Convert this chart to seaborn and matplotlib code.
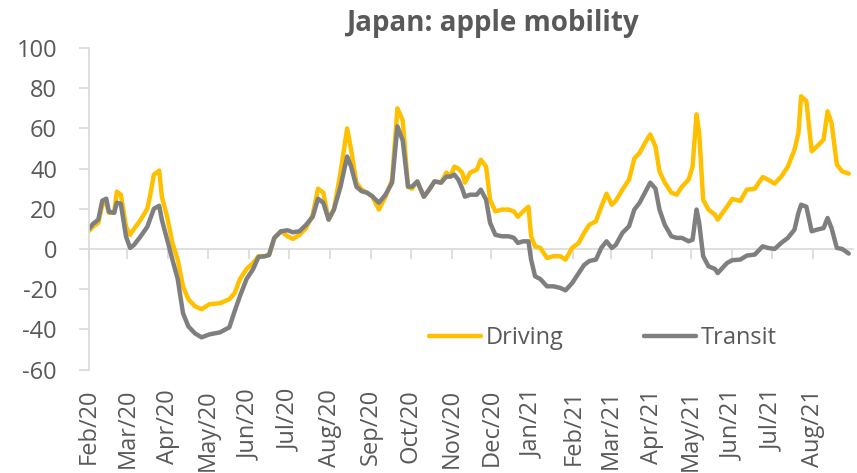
import pandas as pd
import matplotlib
matplotlib.use("Agg")
import matplotlib.pyplot as plt
import matplotlib.dates as mdates
import seaborn as sns

# values (index, 13 Jan 2020 = 100 -> % change)
dates = [
    "2020-02-01", "2020-02-04", "2020-02-08", "2020-02-11", "2020-02-14", "2020-02-16",
    "2020-02-20", "2020-02-22", "2020-02-25", "2020-02-29", "2020-03-03", "2020-03-06",
    "2020-03-11", "2020-03-16", "2020-03-18", "2020-03-21", "2020-03-25", "2020-03-27",
    "2020-03-31", "2020-04-04", "2020-04-08", "2020-04-12", "2020-04-16", "2020-04-21",
    "2020-04-26", "2020-05-02", "2020-05-10", "2020-05-17", "2020-05-21", "2020-05-25",
    "2020-05-30", "2020-06-04", "2020-06-08", "2020-06-13", "2020-06-16", "2020-06-20",
    "2020-06-25", "2020-06-30", "2020-07-04", "2020-07-09", "2020-07-14", "2020-07-19",
    "2020-07-23", "2020-07-27", "2020-07-31", "2020-08-04", "2020-08-09", "2020-08-14",
    "2020-08-17", "2020-08-21", "2020-08-25", "2020-08-29", "2020-09-02", "2020-09-07",
    "2020-09-12", "2020-09-17", "2020-09-21", "2020-09-25", "2020-09-29", "2020-10-02",
    "2020-10-06", "2020-10-11", "2020-10-15", "2020-10-19", "2020-10-24", "2020-10-28",
    "2020-10-31", "2020-11-03", "2020-11-06", "2020-11-09", "2020-11-11", "2020-11-15",
    "2020-11-20", "2020-11-23", "2020-11-27", "2020-11-30", "2020-12-04", "2020-12-09",
    "2020-12-14", "2020-12-18", "2020-12-21", "2020-12-25", "2020-12-29", "2020-12-31",
    "2021-01-03", "2021-01-07", "2021-01-12", "2021-01-17", "2021-01-22", "2021-01-26",
    "2021-01-31", "2021-02-05", "2021-02-09", "2021-02-13", "2021-02-18", "2021-02-22",
    "2021-02-26", "2021-03-02", "2021-03-05", "2021-03-10", "2021-03-15", "2021-03-19",
    "2021-03-23", "2021-03-27", "2021-03-31", "2021-04-04", "2021-04-07", "2021-04-11",
    "2021-04-16", "2021-04-20", "2021-04-24", "2021-04-29", "2021-05-02", "2021-05-05",
    "2021-05-07", "2021-05-10", "2021-05-14", "2021-05-19", "2021-05-21", "2021-05-28",
    "2021-06-01", "2021-06-07", "2021-06-12", "2021-06-18", "2021-06-24", "2021-06-28",
    "2021-07-03", "2021-07-08", "2021-07-13", "2021-07-18", "2021-07-21", "2021-07-23",
    "2021-07-27", "2021-07-31", "2021-08-04", "2021-08-09", "2021-08-12", "2021-08-15",
    "2021-08-19", "2021-08-23", "2021-08-28",
]

driving = [
    9, 11, 13, 22, 23, 18,
    18, 28.5, 27, 11, 7, 10,
    14.5, 20, 26, 37, 39, 26,
    16, 3, -5.3, -18.6, -25, -28.5,
    -30, -27.5, -27, -25, -22, -15,
    -10, -7, -3.6, -3.6, -3, 5.5,
    8.8, 6.3, 5, 7, 10.4, 17,
    30, 28, 14.6, 19.6, 38, 60,
    49.4, 33, 29.5, 28, 26.2, 19.6,
    26, 34.5, 70, 64, 31, 30,
    33.6, 26, 29.5, 33.6, 33, 38,
    36, 41, 40, 38, 33, 38,
    39.5, 44.4, 41, 24.5, 18.7, 19.6,
    19.6, 18.7, 16, 18.7, 21, 6.3,
    1.3, 0.5, -4.5, -3.6, -3.6, -5.3,
    0.5, 3, 8, 12, 13.8, 21,
    27.5, 22, 24, 29.5, 34.5, 45,
    47.8, 52.7, 57, 51, 38.6, 33,
    28, 27, 31, 34.5, 41, 67,
    57.7, 24.5, 19.6, 17, 14.6, 21,
    24.9, 23.9, 29.5, 30, 35.8, 34.5,
    32.5, 36, 41, 49.4, 57.7, 76,
    73.5, 48.6, 51, 54.4, 68.5, 62.7,
    42, 38.6, 37.5,
]

transit = [
    10, 12.5, 14.6, 24, 25, 18.5,
    18, 23, 22.5, 6, 0.5, 2,
    6.3, 11, 14.6, 20, 21.5, 14.6,
    4.6, -5.3, -15, -32, -38.5, -42,
    -44, -42.5, -41.5, -39, -31, -23.5,
    -15, -10, -4, -3.6, -3, 5.5,
    8.8, 9.3, 8.3, 8.8, 12, 16,
    25, 23, 14.6, 19.6, 31, 46,
    41, 31, 28.7, 28, 26.2, 23,
    27, 33, 61, 54, 31, 31,
    33.6, 26, 29.5, 33.6, 33, 36,
    36, 37, 34.5, 30, 26, 27,
    27, 29.5, 24.5, 13, 7, 6.3,
    6.3, 5.5, 3, 3.8, 3.8, -5.3,
    -13.6, -15, -18.6, -18.6, -19.4, -20.6,
    -17, -12, -8, -6, -5.3, 0.5,
    3.8, 0.5, 2, 8, 11.3, 19.6,
    23, 28, 33, 30, 19.6, 12,
    6.3, 5.5, 5.5, 3.8, 4.6, 19.6,
    13, -3.6, -8.6, -10, -12, -7,
    -5.6, -5.3, -3.3, -2.8, 1.3, 0.5,
    0, 3, 5.5, 9.6, 18, 22,
    21, 8.8, 9.6, 10.4, 15.4, 10.4,
    0.5, 0, -2.3,
]

series_names = ["Driving", "Transit"]
colors = ["#FFC000", "#7F7F7F"]
text_grey = "#595959"

df = pd.DataFrame({"date": pd.to_datetime(dates), "Driving": driving, "Transit": transit})
long_df = df.melt(id_vars="date", value_vars=series_names, var_name="series", value_name="value")

sns.set_style("white")
plt.rcParams["font.family"] = ["Open Sans", "DejaVu Sans"]
plt.rcParams["axes.unicode_minus"] = False

fig = plt.figure(figsize=(8.57, 4.73), dpi=100)
ax = fig.add_axes([0.1039, 0.2188, 0.8911, 0.6797])

sns.lineplot(data=long_df, x="date", y="value", hue="series", hue_order=series_names,
             palette=colors, linewidth=3.2, ax=ax, legend=True)
for line in ax.lines:
    line.set_solid_joinstyle("round")
    line.set_solid_capstyle("round")

ax.set_xlim(pd.Timestamp("2020-02-01"), pd.Timestamp("2021-08-31"))
ax.set_ylim(-60, 100)
ax.set_yticks(range(-60, 101, 20))
ax.set_xlabel("")
ax.set_ylabel("")

# horizontal axis sits at zero, month labels stay at the bottom
for s in ["top", "right"]:
    ax.spines[s].set_visible(False)
ax.spines["left"].set_color("#D9D9D9")
ax.spines["left"].set_linewidth(1.2)
ax.spines["bottom"].set_position(("data", 0))
ax.spines["bottom"].set_color("#D9D9D9")
ax.spines["bottom"].set_linewidth(1.2)
ax.spines["bottom"].set_zorder(0)

ax.xaxis.set_major_locator(mdates.MonthLocator())
ax.tick_params(axis="x", which="major", direction="out", length=7, width=1.2,
               color="#D9D9D9", labelbottom=False, bottom=True)
ax.tick_params(axis="y", direction="out", length=7, width=1.2, color="#D9D9D9",
               labelsize=17, labelcolor=text_grey, pad=16, left=True)

sec = ax.secondary_xaxis("bottom")
sec.xaxis.set_major_locator(mdates.MonthLocator())
sec.xaxis.set_major_formatter(mdates.DateFormatter("%b/%y"))
sec.spines["bottom"].set_visible(False)
sec.tick_params(axis="x", length=0, pad=14, labelsize=17, labelcolor=text_grey, rotation=90)

leg = ax.legend(loc="center", bbox_to_anchor=(0.673, 0.098), ncol=2, frameon=False,
                fontsize=17, handlelength=2.2, handletextpad=0.2, columnspacing=3.4,
                labelcolor=text_grey)
for h in leg.legend_handles:
    h.set_linewidth(3.2)

fig.text(0.575, 0.951, "Japan: apple mobility", ha="center", va="center",
         fontsize=20, fontweight="bold", color=text_grey)

fig.savefig("out.png", dpi=100)
